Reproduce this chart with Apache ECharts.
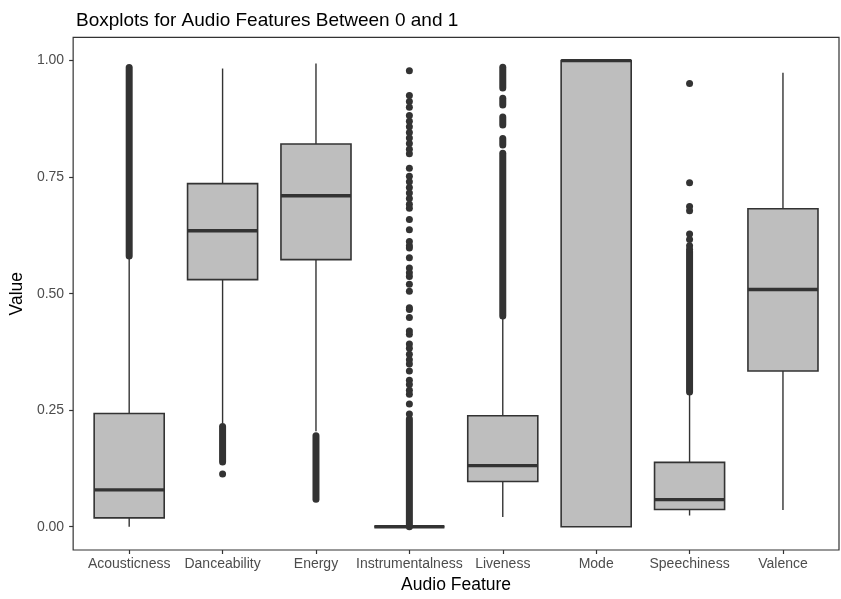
<!DOCTYPE html>
<html>
<head>
<meta charset="utf-8">
<script src="https://cdn.jsdelivr.net/npm/echarts@6/dist/echarts.min.js"></script>
<style>
html,body{margin:0;padding:0;background:#fff;}
#chart{width:841px;height:599px;}
</style>
</head>
<body>
<div id="chart"></div>
<script>
// ---- Data ----
const categories = ['Acousticness','Danceability','Energy','Instrumentalness','Liveness','Mode','Speechiness','Valence'];
const whiskerLow  = [0.000, 0.222, 0.205, 0.000, 0.021, 0.000, 0.024, 0.036];
const q1          = [0.019, 0.530, 0.573, 0.000, 0.097, 0.000, 0.037, 0.334];
const medians     = [0.079, 0.635, 0.710, 0.000, 0.131, 1.000, 0.058, 0.509];
const q3          = [0.243, 0.736, 0.821, 0.000, 0.238, 1.000, 0.138, 0.682];
const whiskerHigh = [0.578, 0.983, 0.994, 0.000, 0.447, 1.000, 0.288, 0.974];

// dense runs of overlapping outliers: [category index, low, high]
const outlierRuns = [
  [0, 0.581, 0.985],
  [1, 0.139, 0.215],
  [2, 0.059, 0.195],
  [3, 0.000, 0.231],
  [4, 0.452, 0.801],
  [4, 0.819, 0.833],
  [4, 0.862, 0.879],
  [4, 0.905, 0.919],
  [4, 0.941, 0.986],
  [6, 0.289, 0.590]
];
// isolated outliers per category
const danceOutliers = [0.113];
const instrOutliers = [0.978, 0.925, 0.912, 0.900, 0.882, 0.870, 0.858, 0.846, 0.834, 0.822, 0.810, 0.800,
  0.769, 0.752, 0.740, 0.728, 0.716, 0.704, 0.692, 0.683, 0.659, 0.637, 0.612, 0.603, 0.598, 0.577,
  0.555, 0.545, 0.537, 0.520, 0.505, 0.470, 0.466, 0.449, 0.420, 0.413, 0.392, 0.383, 0.370, 0.358,
  0.349, 0.334, 0.314, 0.305, 0.293, 0.284, 0.263, 0.242];
const speechOutliers = [0.951, 0.738, 0.687, 0.678, 0.628, 0.616, 0.603, 0.595];
const yTicks = [0, 0.25, 0.5, 0.75, 1];

// ---- build ----
const boxData = categories.map((c, i) => [i, whiskerLow[i], q1[i], medians[i], q3[i], whiskerHigh[i]]);
const pointData = []
  .concat(danceOutliers.map(v => [1, v]))
  .concat(instrOutliers.map(v => [3, v]))
  .concat(speechOutliers.map(v => [6, v]));
const catIdx = categories.map((c, i) => i);

const FONT = "'Liberation Sans', Arial, Helvetica, sans-serif";
const INK = '#333333';

const chart = echarts.init(document.getElementById('chart'), null, {renderer: 'canvas'});

function renderBox(params, api) {
  const i = api.value(0);
  const pLo = api.coord([i, api.value(1)]);
  const pQ1 = api.coord([i, api.value(2)]);
  const pMd = api.coord([i, api.value(3)]);
  const pQ3 = api.coord([i, api.value(4)]);
  const pHi = api.coord([i, api.value(5)]);
  const half = api.size([0.75, 0])[0] / 2;
  const x = pQ1[0];
  return {
    type: 'group',
    children: [
      {type: 'line', shape: {x1: x, y1: pHi[1], x2: x, y2: pQ3[1]}, style: {stroke: INK, lineWidth: 1.4}},
      {type: 'line', shape: {x1: x, y1: pQ1[1], x2: x, y2: pLo[1]}, style: {stroke: INK, lineWidth: 1.4}},
      {type: 'rect', shape: {x: x - half, y: pQ3[1], width: half * 2, height: pQ1[1] - pQ3[1]},
        style: {fill: '#BEBEBE', stroke: INK, lineWidth: 1.6}},
      {type: 'line', shape: {x1: x - half, y1: pMd[1], x2: x + half, y2: pMd[1]},
        style: {stroke: INK, lineWidth: 3.4}}
    ]
  };
}

function renderRun(params, api) {
  const i = api.value(0);
  const a = api.coord([i, api.value(1)]);
  const b = api.coord([i, api.value(2)]);
  return {
    type: 'line',
    shape: {x1: a[0], y1: a[1], x2: b[0], y2: b[1]},
    style: {stroke: INK, lineWidth: 7, lineCap: 'round'}
  };
}

const option = {
  animation: false,
  backgroundColor: '#ffffff',
  textStyle: {fontFamily: FONT},
  title: {
    text: 'Boxplots for Audio Features Between 0 and 1',
    left: 71, top: 6,
    textStyle: {fontFamily: FONT, fontSize: 19, fontWeight: 'normal', color: '#000'}
  },
  grid: {
    left: 72.7, right: 2, top: 37.3, bottom: 48,
    show: true, borderColor: INK, borderWidth: 1.2, backgroundColor: '#fff'
  },
  xAxis: {
    type: 'value', min: -0.6, max: 7.6, position: 'bottom',
    name: 'Audio Feature', nameLocation: 'middle', nameGap: 26,
    nameTextStyle: {fontFamily: FONT, fontSize: 17.5, color: '#000'},
    axisLine: {show: false, onZero: false},
    splitLine: {show: false},
    axisTick: {show: true, customValues: catIdx, length: 4, lineStyle: {color: INK, width: 1.2}},
    axisLabel: {customValues: catIdx, formatter: v => categories[Math.round(v)], color: '#4D4D4D',
      fontSize: 14, fontFamily: FONT, margin: 7}
  },
  yAxis: {
    type: 'value', min: -0.05, max: 1.05, position: 'left',
    name: 'Value', nameLocation: 'middle', nameGap: 45,
    nameTextStyle: {fontFamily: FONT, fontSize: 17.5, color: '#000'},
    axisLine: {show: false, onZero: false},
    splitLine: {show: false},
    axisTick: {show: true, customValues: yTicks, length: 4, lineStyle: {color: INK, width: 1.2}},
    axisLabel: {customValues: yTicks, formatter: v => v.toFixed(2), color: '#4D4D4D',
      fontSize: 14, fontFamily: FONT, margin: 9}
  },
  series: [
    {type: 'custom', renderItem: renderBox, data: boxData, encode: {x: 0, y: [1, 2, 3, 4, 5]}, z: 2},
    {type: 'custom', renderItem: renderRun, data: outlierRuns, encode: {x: 0, y: [1, 2]}, z: 3},
    {type: 'scatter', data: pointData, symbol: 'circle', symbolSize: 7,
      itemStyle: {color: INK, opacity: 1}, z: 4}
  ]
};
chart.setOption(option);
</script>
</body>
</html>
